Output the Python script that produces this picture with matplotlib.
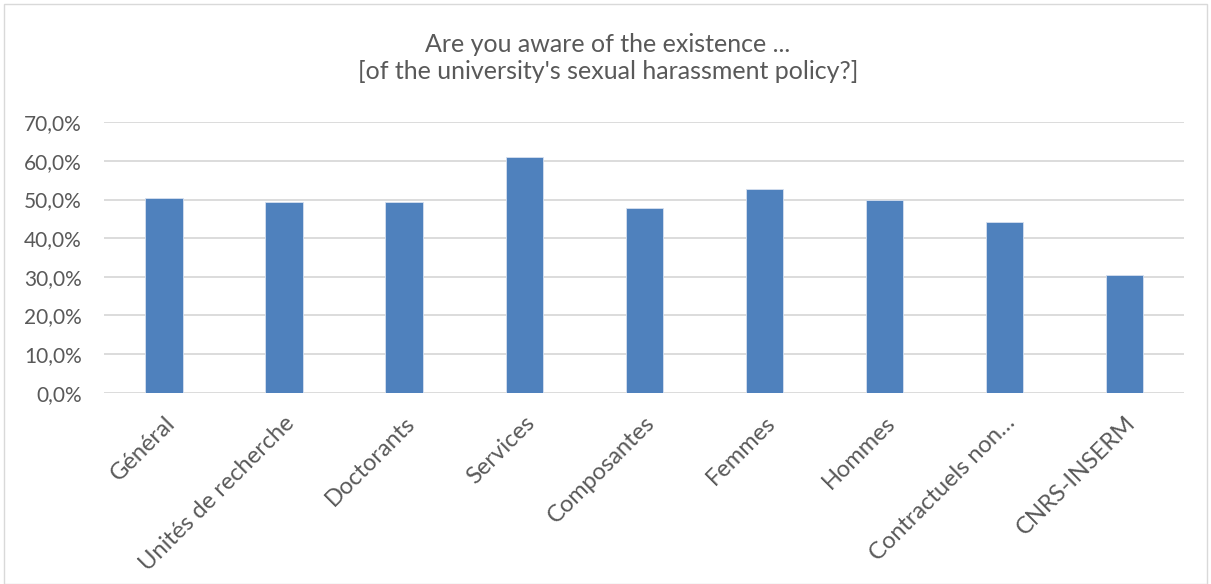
import matplotlib
matplotlib.use("Agg")
import matplotlib.pyplot as plt
from matplotlib.ticker import FuncFormatter
from matplotlib.patches import Rectangle

categories = ["Général", "Unités de recherche", "Doctorants", "Services", "Composantes",
              "Femmes", "Hommes", "Contractuels non…", "CNRS-INSERM"]
values = [50.3, 49.4, 49.4, 61.0, 47.9, 52.7, 49.8, 44.2, 30.5]
yticks = [0, 10, 20, 30, 40, 50, 60, 70]
title = "Are you aware of the existence ...\n[of the university's sexual harassment policy?]"

plt.rcParams['font.family'] = ['Lato', 'DejaVu Sans']
txt = '#595959'

fig = plt.figure(figsize=(12.11, 5.84), dpi=100)
ax = fig.add_axes([0.0859, 0.3276, 0.8920, 0.4630])
fig.patches.append(Rectangle((0.003, 0.0), 0.994, 0.993, transform=fig.transFigure,
                             fill=False, edgecolor='#d9d9d9', linewidth=1.0))

x = list(range(len(categories)))
ax.bar(x, values, width=0.31, color='#4f81bd', edgecolor='#d6e0ef', linewidth=0.6, zorder=3)
ax.set_xlim(-0.5, len(categories) - 0.5)
ax.set_ylim(0, 70)
ax.set_yticks(yticks)
ax.yaxis.set_major_formatter(FuncFormatter(lambda v, p: f"{v:.1f}%".replace('.', ',')))
ax.grid(axis='y', color='#d9d9d9', linewidth=1.3, zorder=0)
for s in ax.spines.values():
    s.set_visible(False)
ax.tick_params(axis='both', length=0, colors=txt)
ax.tick_params(axis='y', pad=16, labelsize=15)
ax.set_xticks(x)
ax.set_xticklabels(categories, rotation=45, ha='right', va='top', rotation_mode='anchor',
                   fontsize=17)
for lab in ax.get_xticklabels():
    lab.set_color(txt)
ax.tick_params(axis='x', pad=14)

fig.text(0.502, 0.900, title, ha='center', va='center', fontsize=18, color=txt, linespacing=1.2)

fig.savefig('out.png', dpi=100, facecolor='white')
